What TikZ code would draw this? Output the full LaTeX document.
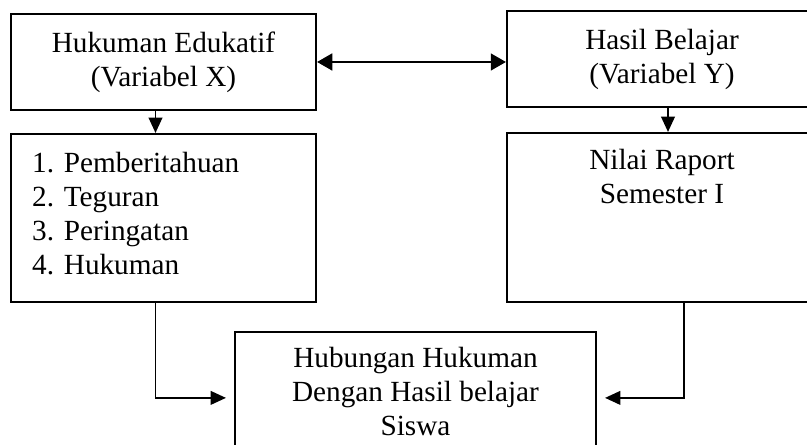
\documentclass[tikz,border=0pt]{standalone}
\usepackage{fontspec}
\setmainfont{Liberation Serif}
\usetikzlibrary{arrows.meta}
\tikzset{every node/.style={rectangle,align=center,inner sep=0pt,font=\fontsize{20.8}{24.2}\selectfont}}
\tikzset{kotak/.style={draw,line width=1.5pt}}
\tikzset{kiri/.style={minimum width=7.625cm}}
\tikzset{kanan/.style={minimum width=7.75cm}}
\tikzset{panah/.style={->,line width=1.2pt}}

\begin{document}
\begin{tikzpicture}[>={Triangle[length=3.8mm,width=3.4mm]}]
\useasboundingbox (0,0) rectangle (20.175,11.125);
\node[kotak,kiri,minimum height=2.4cm](hukuman) at (4.0875,9.575) {Hukuman Edukatif\\(Variabel X)};
\node[kotak,kanan,minimum height=2.4cm](hasil) at (16.55,9.65) {Hasil Belajar\\(Variabel Y)};
\node[kotak,kiri,minimum height=4.2cm](indikator) at (4.0875,5.675) {};
\node[kotak,kanan,minimum height=4.225cm](raport) at (16.55,5.6875) {};
\node[kotak,minimum width=9.025cm,minimum height=3.075cm](hubungan) at (10.3875,1.2875) {};
\node[align=left,anchor=north west](daftar) at ([shift={(0.55,-0.47)}]indikator.north west) {1. Pemberitahuan\\2. Teguran\\3. Peringatan\\4. Hukuman};
\node[anchor=north](nilai) at ([yshift=-0.42cm]raport.north) {Nilai Raport\\Semester I};
\node[anchor=north](judul) at ([yshift=-0.4cm]hubungan.north) {Hubungan Hukuman\\Dengan Hasil belajar\\Siswa};

\draw[panah,{Triangle[length=3.8mm,width=4.2mm]}-{Triangle[length=3.8mm,width=4.2mm]},line width=1.6pt] (hukuman.east) -- (hukuman.east -| hasil.west);
\draw[panah] ([xshift=-2mm]hukuman.south) -- ([xshift=-2mm]indikator.north);
\draw[panah] ([xshift=1.5mm]hasil.south) -- ([xshift=1.5mm]raport.north);
\draw[panah] ([xshift=-2mm]indikator.south) |- ([xshift=-2mm,yshift=-1.1mm]hubungan.west);
\draw[panah] ([xshift=5.5mm]raport.south) |- ([xshift=2mm,yshift=-1.1mm]hubungan.east);
\end{tikzpicture}
\end{document}
